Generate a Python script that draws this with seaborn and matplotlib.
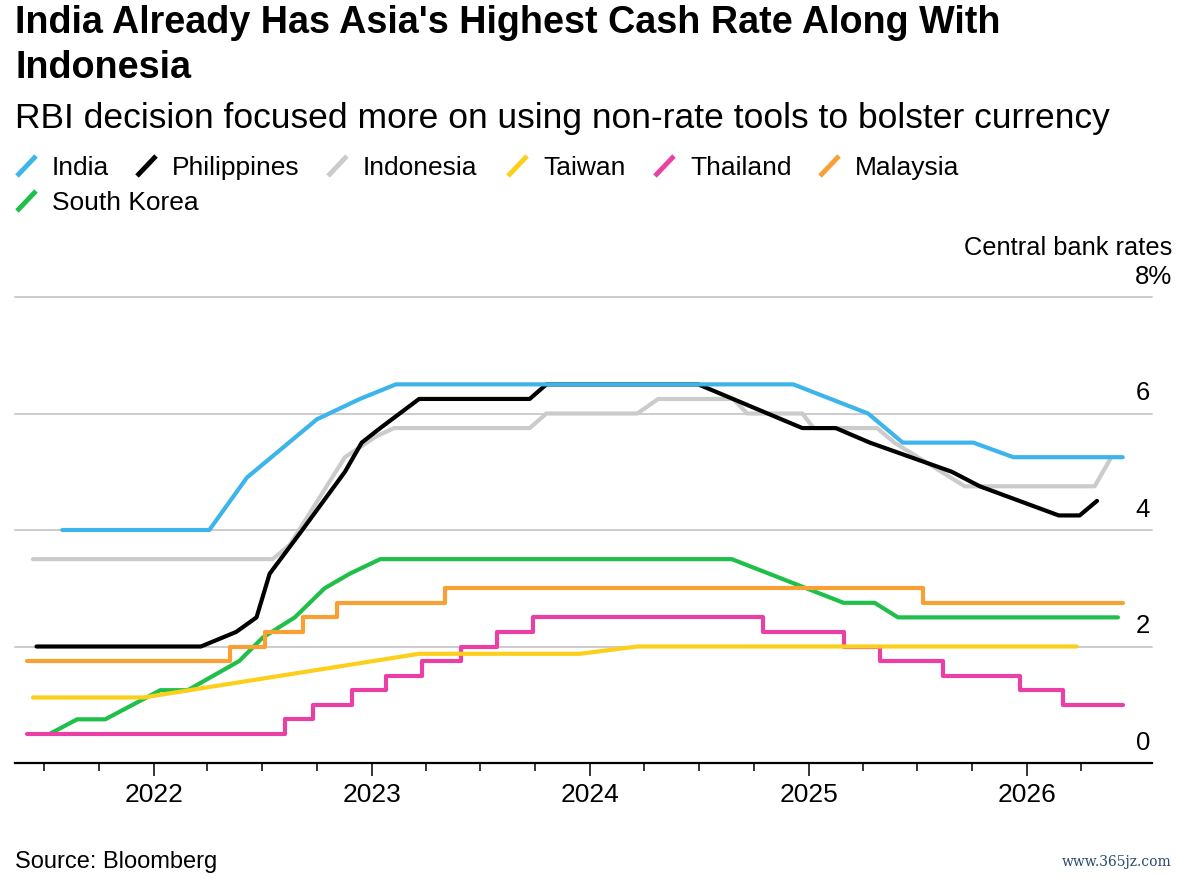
import pandas as pd
import seaborn as sns
import matplotlib.pyplot as plt
import matplotlib.dates as mdates
from matplotlib.lines import Line2D
from matplotlib.ticker import FixedLocator

countries = ["India", "Philippines", "Indonesia", "Taiwan", "Thailand", "Malaysia", "South Korea"]
colors = {"India": "#3db4ea", "Philippines": "#000000", "Indonesia": "#cbcbcb",
          "Taiwan": "#fccf1b", "Thailand": "#ea3fa4", "Malaysia": "#f8a033",
          "South Korea": "#1fbf4a"}
step_countries = ["Thailand", "Malaysia"]

india_dates = ["2021-08-01", "2022-04-04", "2022-06-06", "2022-10-01", "2022-12-12", "2023-02-10",
               "2024-12-06", "2025-04-10", "2025-06-07", "2025-10-03", "2025-12-09", "2026-06-10"]
india_rates = [4.0, 4.0, 4.9, 5.9, 6.25, 6.5, 6.5, 6.0, 5.5, 5.5, 5.25, 5.25]

philippines_dates = ["2021-06-19", "2022-03-21", "2022-05-19", "2022-06-22", "2022-07-14", "2022-09-03",
                     "2022-11-17", "2022-12-15", "2023-01-15", "2023-03-21", "2023-09-22", "2023-10-20",
                     "2024-06-30", "2024-12-21", "2025-02-15", "2025-04-13", "2025-08-28", "2025-10-14",
                     "2026-02-23", "2026-03-30", "2026-04-28"]
philippines_rates = [2.0, 2.0, 2.25, 2.5, 3.25, 3.95, 5.0, 5.5, 5.75, 6.25, 6.25, 6.5,
                     6.5, 5.75, 5.75, 5.5, 5.0, 4.75, 4.25, 4.25, 4.5]

indonesia_dates = ["2021-06-13", "2022-07-19", "2022-08-17", "2022-11-17", "2023-01-07", "2023-02-07",
                   "2023-09-22", "2023-10-20", "2024-03-20", "2024-04-24", "2024-08-27", "2024-09-20",
                   "2024-12-21", "2025-01-09", "2025-04-25", "2025-05-24", "2025-09-19", "2026-04-24",
                   "2026-05-22"]
indonesia_rates = [3.5, 3.5, 3.75, 5.25, 5.6, 5.75, 5.75, 6.0, 6.0, 6.25, 6.25, 6.0,
                   6.0, 5.75, 5.75, 5.5, 4.75, 4.75, 5.25]

taiwan_dates = ["2021-06-13", "2021-12-15", "2023-03-21", "2023-12-15", "2024-03-20", "2026-03-25"]
taiwan_rates = [1.125, 1.125, 1.875, 1.875, 2.0, 2.0]

thailand_dates = ["2021-06-03", "2022-08-08", "2022-09-24", "2022-11-29", "2023-01-25", "2023-03-26",
                  "2023-05-30", "2023-07-30", "2023-09-27", "2024-10-17", "2025-02-28", "2025-04-30",
                  "2025-08-14", "2025-12-21", "2026-03-02", "2026-06-10"]
thailand_rates = [0.5, 0.75, 1.0, 1.25, 1.5, 1.75, 2.0, 2.25, 2.5, 2.25, 2.0, 1.75,
                  1.5, 1.25, 1.0, 1.0]

malaysia_dates = ["2021-06-03", "2022-05-08", "2022-07-06", "2022-09-08", "2022-11-03", "2023-05-03",
                  "2025-07-11", "2026-06-10"]
malaysia_rates = [1.75, 2.0, 2.25, 2.5, 2.75, 3.0, 2.75, 2.75]

korea_dates = ["2021-07-11", "2021-08-26", "2021-10-12", "2022-01-12", "2022-02-27", "2022-05-24",
               "2022-07-02", "2022-08-25", "2022-10-14", "2022-11-25", "2023-01-15", "2024-08-25",
               "2025-02-28", "2025-04-21", "2025-05-30", "2026-06-02"]
korea_rates = [0.5, 0.75, 0.75, 1.25, 1.25, 1.75, 2.15, 2.5, 3.0, 3.25, 3.5, 3.5,
               2.75, 2.75, 2.5, 2.5]

series = {"India": (india_dates, india_rates),
          "Philippines": (philippines_dates, philippines_rates),
          "Indonesia": (indonesia_dates, indonesia_rates),
          "Taiwan": (taiwan_dates, taiwan_rates),
          "Thailand": (thailand_dates, thailand_rates),
          "Malaysia": (malaysia_dates, malaysia_rates),
          "South Korea": (korea_dates, korea_rates)}

frames = []
for name, (d, r) in series.items():
    frames.append(pd.DataFrame({"date": pd.to_datetime(d), "rate": r, "country": name}))
df = pd.concat(frames, ignore_index=True)

ytick_vals = [0, 2, 4, 6, 8]
ytick_labels = ["0", "2", "4", "6", "8%"]

sns.set_style("white")
plt.rcParams["font.family"] = ["Liberation Sans", "DejaVu Sans"]
plt.rcParams["text.color"] = "#000000"
plt.rcParams["xtick.color"] = "#000000"
plt.rcParams["xtick.labelcolor"] = "#000000"

W, H = 1179, 879
fig = plt.figure(figsize=(W / 100, H / 100), dpi=100)
ax = fig.add_axes([15 / W, (H - 764) / H, (1152 - 15) / W, (764 - 298) / H])

# first legend entry ends up on top
for name in reversed(countries):
    sub = df[df["country"] == name]
    sns.lineplot(data=sub, x="date", y="rate", ax=ax, color=colors[name], lw=3,
                 estimator=None, sort=False, legend=False,
                 drawstyle="steps-post" if name in step_countries else "default")

ax.set_xlim(pd.Timestamp("2021-05-14"), pd.Timestamp("2026-07-29"))
ax.set_ylim(0, 8)
ax.set_yticks([])
ax.set_xlabel("")
ax.set_ylabel("")

for v, lab in zip(ytick_vals, ytick_labels):
    if v > 0:
        ax.axhline(v, color="#cccccc", lw=1.4, zorder=0, clip_on=False)
    dx = 20 if lab.endswith("%") else -2
    ax.annotate(lab, xy=(1.0, v), xycoords=("axes fraction", "data"),
                xytext=(dx * 0.72, 14 * 0.72), textcoords="offset points",
                ha="right", va="baseline", fontsize=18.5, color="#000000",
                annotation_clip=False)

for s in ["top", "left", "right"]:
    ax.spines[s].set_visible(False)
ax.spines["bottom"].set_color("#000000")
ax.spines["bottom"].set_linewidth(1.6)

ax.xaxis.set_major_locator(mdates.YearLocator())
ax.xaxis.set_major_formatter(mdates.DateFormatter("%Y"))
minor = [pd.Timestamp(f"{y}-{m:02d}-01") for y in range(2021, 2027) for m in (4, 7, 10)]
minor = [mdates.date2num(t) for t in minor if pd.Timestamp("2021-06-01") < t < pd.Timestamp("2026-06-01")]
ax.xaxis.set_minor_locator(FixedLocator(minor))
ax.tick_params(axis="x", which="major", length=9.5, width=1.1, color="#000000",
               labelsize=19, pad=4, bottom=True)
ax.tick_params(axis="x", which="minor", length=6, width=1.1, color="#000000", bottom=True)

# titles
fig.text(15 / W, 1 - 33 / H, "India Already Has Asia's Highest Cash Rate Along With",
         fontsize=27.2, fontweight="bold", ha="left", va="baseline")
fig.text(15 / W, 1 - 78 / H, "Indonesia",
         fontsize=27.2, fontweight="bold", ha="left", va="baseline")
fig.text(15 / W, 1 - 128 / H, "RBI decision focused more on using non-rate tools to bolster currency",
         fontsize=25.5, ha="left", va="baseline")

# legend
legend_pos = {"India": (17, 52, 175), "Philippines": (137, 172, 175), "Indonesia": (328, 363, 175),
              "Taiwan": (508, 543, 175), "Thailand": (655, 690, 175), "Malaysia": (820, 855, 175),
              "South Korea": (17, 52, 210)}
for name in countries:
    mx, tx, by = legend_pos[name]
    fig.add_artist(Line2D([mx / W, (mx + 19) / W], [1 - (by + 2) / H, 1 - (by - 18) / H],
                          transform=fig.transFigure, color=colors[name], lw=3.5,
                          solid_capstyle="butt"))
    fig.text(tx / W, 1 - by / H, name, fontsize=19, ha="left", va="baseline")

fig.text(1172 / W, 1 - 255 / H, "Central bank rates", fontsize=18.3, ha="right", va="baseline")
fig.text(15 / W, 1 - 868 / H, "Source: Bloomberg", fontsize=17, ha="left", va="baseline")
fig.text(1172 / W, 1 - 866 / H, "www.365jz.com", fontsize=10, ha="right", va="baseline",
         color="#2a4a6a", family=["DejaVu Serif"])

fig.savefig("out.png", dpi=100)
